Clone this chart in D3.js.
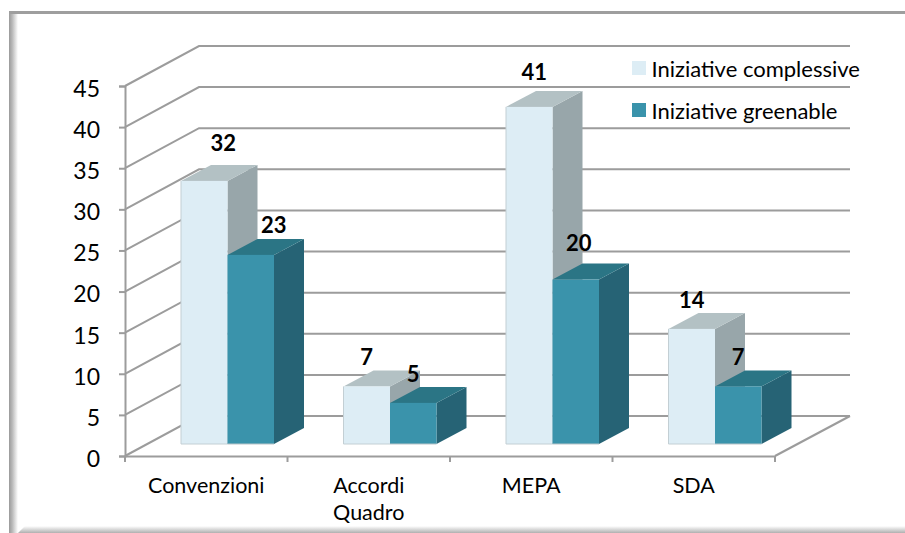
<!DOCTYPE html>
<html>
<head>
<meta charset="utf-8">
<script src="https://cdn.jsdelivr.net/npm/d3@7"></script>
<style>
	html, body { margin: 0; padding: 0; background: #fff; }
	svg { display: block; }
	text { font-family: Lato, "Open Sans", sans-serif; fill: #000; }
</style>
</head>
<body>
<div id="chart"></div>
<script>
const categories = ["Convenzioni", "Accordi Quadro", "MEPA", "SDA"];
const seriesNames = ["Iniziative complessive", "Iniziative greenable"];
const complessive = [32, 7, 41, 14];
const greenable = [23, 5, 20, 7];
const yTicks = [0, 5, 10, 15, 20, 25, 30, 35, 40, 45];

const width = 905, height = 533;
const gridColor = "#9c9c9c";

//front, top and side colour of each series
const faces = [
	{front: "#ddedf5", top: "#b3c1c4", side: "#98a6aa"},
	{front: "#3a93ab", top: "#2b7585", side: "#266375"}
];

const svg = d3.select("#chart").append("svg")
	.attr("width", width)
	.attr("height", height);

/////////////////////////////////////////////////////////
/////////////////// Frame with shadow ///////////////////
/////////////////////////////////////////////////////////
const defs = svg.append("defs");
function fade(id, x2, y2, stops) {
	const g = defs.append("linearGradient").attr("id", id)
		.attr("x1", 0).attr("y1", 0).attr("x2", x2).attr("y2", y2);
	stops.forEach(s => g.append("stop").attr("offset", s[0]).attr("stop-color", s[1]));
}
fade("fadeLeft", 1, 0, [[0, "#9a9a9a"], [0.35, "#b8b8b8"], [1, "#ffffff"]]);
fade("fadeBottom", 0, 1, [[0, "#ffffff"], [1, "#b0b0b0"]]);

svg.append("rect").attr("x", 9).attr("y", 13).attr("width", 9).attr("height", height - 13).attr("fill", "url(#fadeLeft)");
svg.append("path")
	.attr("d", `M18,${height}L25,526H${width}V${height}Z`)
	.attr("fill", "url(#fadeBottom)");
svg.append("rect").attr("x", 9).attr("y", 11).attr("width", width - 9).attr("height", 3).attr("fill", "#9e9e9e");

/////////////////////////////////////////////////////////
//////////////////////// Scales /////////////////////////
/////////////////////////////////////////////////////////
const y = d3.scaleLinear().domain([0, 45]).range([456, 86]);
const x = d3.scaleBand().domain(categories).range([125, 775]);
const x1 = d3.scaleBand().domain(seriesNames).range([0, 93]);

const wallDx = 74, wallDy = -40;	//depth of the chart box
const barDx = 30, barDy = -16;		//depth of one bar
const barLeft = 56, barDrop = 12;	//bar position inside its band

/////////////////////////////////////////////////////////
////////////////// Walls and grid lines /////////////////
/////////////////////////////////////////////////////////
const walls = svg.append("g")
	.attr("fill", "none")
	.attr("stroke", gridColor)
	.attr("stroke-width", 2);

walls.selectAll(".grid")
	.data(yTicks)
	.enter().append("path")
	.attr("class", "grid")
	.attr("d", d => `M${x.range()[0]},${y(d)}l${wallDx},${wallDy}H${x.range()[1] + wallDx + 1}`);

walls.append("path")
	.attr("d", `M${x.range()[1]},${y(0)}l${wallDx + 1},${wallDy}`);

/////////////////////////////////////////////////////////
//////////////////////// Axes ///////////////////////////
/////////////////////////////////////////////////////////
const yAxis = svg.append("g")
	.attr("transform", `translate(${x.range()[0]},0)`)
	.call(d3.axisLeft(y).tickValues(yTicks).tickSize(6).tickPadding(19));
yAxis.selectAll("text").style("font-size", "23px").attr("dy", "0.45em");

const xAxis = svg.append("g")
	.attr("transform", `translate(0,${y(0)})`)
	.call(d3.axisBottom(x).tickSize(0).tickPadding(0));
xAxis.selectAll("text").remove();

xAxis.selectAll(".edge")
	.data(categories.concat(null))
	.enter().append("line")
	.attr("class", "edge")
	.attr("x1", d => d ? x(d) : x.range()[1])
	.attr("x2", d => d ? x(d) : x.range()[1])
	.attr("y2", 6);

svg.selectAll(".domain, .tick line, .edge")
	.attr("stroke", gridColor)
	.attr("stroke-width", 2);

//Category labels, wrapped on the space
const catLabel = svg.append("g").selectAll("text")
	.data(categories)
	.enter().append("text")
	.attr("text-anchor", "middle")
	.attr("y", 493)
	.style("font-size", "21.5px");
catLabel.selectAll("tspan")
	.data(d => d.split(" ").map(w => ({w: w, c: d})))
	.enter().append("tspan")
	.attr("x", d => x(d.c) + x.bandwidth() / 2)
	.attr("dy", (d, i) => i ? 27 : 0)
	.text(d => d.w);

/////////////////////////////////////////////////////////
//////////////////////// Bars ///////////////////////////
/////////////////////////////////////////////////////////
const values = [complessive, greenable];
const bars = [];
categories.forEach((c, i) => seriesNames.forEach((s, j) => bars.push({c: c, s: s, j: j, v: values[j][i]})));

const w = x1.bandwidth();
const bar = svg.append("g").selectAll("g")
	.data(bars)
	.enter().append("g")
	.attr("transform", d => `translate(${x(d.c) + barLeft + x1(d.s)},${-barDrop})`);

bar.append("path")
	.attr("fill", d => faces[d.j].side)
	.attr("d", d => `M${w},${y(d.v)}l${barDx},${barDy}V${y(0) + barDy}l${-barDx},${-barDy}Z`);
bar.append("path")
	.attr("fill", d => faces[d.j].top)
	.attr("d", d => `M0,${y(d.v)}l${barDx},${barDy}h${w}l${-barDx},${-barDy}Z`);
bar.append("rect")
	.attr("y", d => y(d.v))
	.attr("width", w)
	.attr("height", d => y(0) - y(d.v))
	.attr("fill", d => faces[d.j].front);

//thin grey edge along the light bars
bar.filter(d => d.j === 0).append("path")
	.attr("fill", "none")
	.attr("stroke", "#c3cfd4")
	.attr("d", d => `M0,${y(d.v)}V${y(0)}H${w}`);
bar.filter(d => d.j === 1).append("path")
	.attr("fill", "none")
	.attr("stroke", "#b9c4c8")
	.attr("d", d => `M0,${y(0)}H${w}`);

//Data labels: hand placed in the original, these move the ones that sit off centre
const labelShift = {
	"Convenzioni": [[19, -9], [23, -1]],
	"MEPA": [[5, -6], [3, -8]]
};
const shiftOf = (d, k) => labelShift[d.c] ? labelShift[d.c][d.j][k] : 0;
svg.append("g").selectAll("text")
	.data(bars)
	.enter().append("text")
	.attr("text-anchor", "middle")
	.attr("x", d => x(d.c) + barLeft + x1(d.s) + w / 2 + shiftOf(d, 0))
	.attr("y", d => y(d.v) - barDrop - 21 + shiftOf(d, 1))
	.style("font-size", "22px")
	.style("font-weight", 700)
	.text(d => d.v);

/////////////////////////////////////////////////////////
/////////////////////// Legend //////////////////////////
/////////////////////////////////////////////////////////
const legendY = d3.scalePoint().domain(seriesNames).range([61, 103]);
const legend = svg.append("g").selectAll("g")
	.data(seriesNames)
	.enter().append("g")
	.attr("transform", d => `translate(632,${legendY(d)})`);
legend.append("rect")
	.attr("width", 14)
	.attr("height", 14)
	.attr("fill", (d, i) => faces[i].front);
legend.append("text")
	.attr("x", 19.5)
	.attr("y", 16)
	.style("font-size", "22px")
	.text(d => d);
</script>
</body>
</html>
